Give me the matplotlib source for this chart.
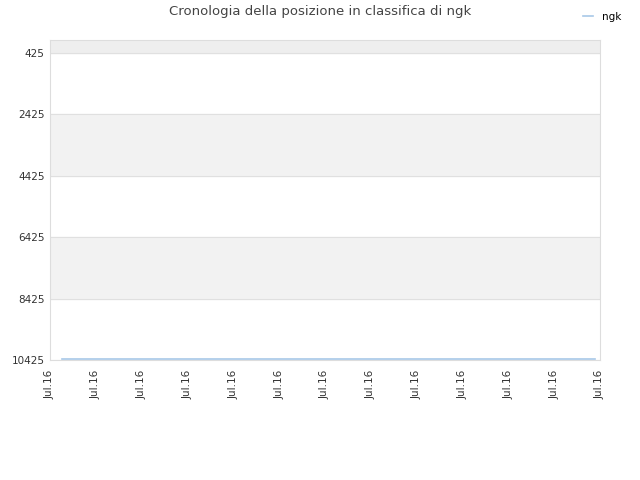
import matplotlib
matplotlib.use("Agg")
import matplotlib.pyplot as plt

# Data
tick_labels = ["Jul.16"] * 13
days = [0.26, 2.0, 4.0, 6.0, 8.0, 10.0, 11.88]
ranks = [10380, 10380, 10380, 10380, 10380, 10380, 10380]
y_ticks = [425, 2425, 4425, 6425, 8425, 10425]

fig = plt.figure(figsize=(6.4, 4.8), dpi=100)
ax = fig.add_axes([50 / 640, 120 / 480, 550 / 640, 320 / 480])

# alternating bands
ax.axhspan(0, 425, color="#eeeeee", zorder=0)
for i in range(len(y_ticks) - 1):
    if i % 2 == 1:
        ax.axhspan(y_ticks[i], y_ticks[i + 1], color="#f2f2f2", zorder=0)
for t in y_ticks:
    ax.axhline(t, color="#e0e0e0", lw=0.8, zorder=1)

ax.plot(days, ranks, color="#a8c8e8", lw=1.2, label="ngk", zorder=3)

ax.set_xlim(0, 12)
ax.set_ylim(10425, 0)
ax.set_yticks(y_ticks)
ax.set_yticklabels([str(t) for t in y_ticks])
ax.set_xticks(range(len(tick_labels)))
ax.set_xticklabels(tick_labels, rotation=90)
ax.tick_params(labelsize=7.5, colors="#333333", length=0)
ax.tick_params(axis="x", pad=7)
ax.tick_params(axis="y", pad=4)
for s in ax.spines.values():
    s.set_color("#dddddd")

fig.text(0.5, 1 - 12 / 480, "Cronologia della posizione in classifica di ngk",
         ha="center", va="center", fontsize=9.5, color="#444444")
fig.legend(loc="upper right", bbox_to_anchor=(0.985, 0.995), frameon=False,
           fontsize=7.5, handlelength=1.0, handletextpad=0.8)

fig.savefig("out.png", dpi=100)
